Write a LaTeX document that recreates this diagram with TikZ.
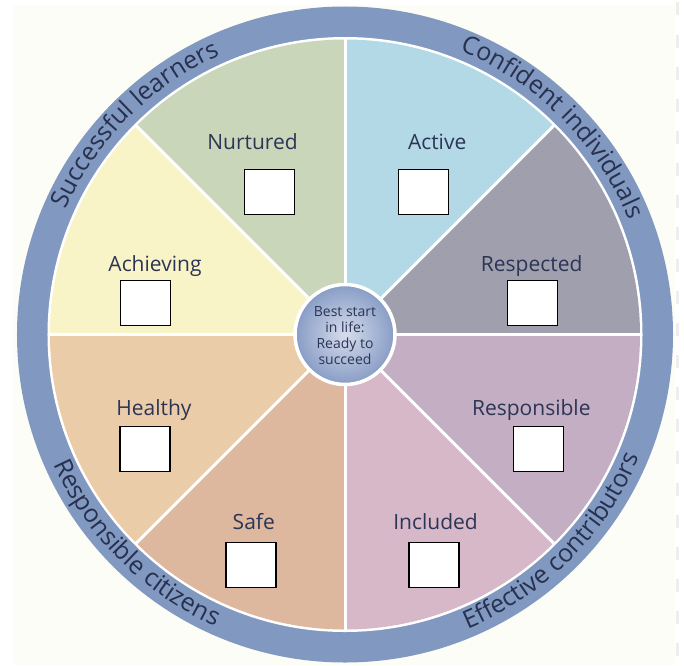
\documentclass[tikz,border=0pt]{standalone}
\usepackage{fontspec}
\setmainfont{Open Sans}
\usetikzlibrary{decorations.text}
\definecolor{bgcream}{HTML}{FDFDF7}
\definecolor{dashgray}{HTML}{EEEEEE}
\definecolor{ringblue}{HTML}{8199C0}
\definecolor{ringtext}{HTML}{27304F}
\definecolor{labeltext}{HTML}{2C3555}
\definecolor{cnurtured}{HTML}{C9D6BA}
\definecolor{cactive}{HTML}{B3D8E6}
\definecolor{crespected}{HTML}{A09FAD}
\definecolor{cresponsible}{HTML}{C3AEC4}
\definecolor{cincluded}{HTML}{D7B8C8}
\definecolor{csafe}{HTML}{DDB89F}
\definecolor{chealthy}{HTML}{EBCCA8}
\definecolor{cachieving}{HTML}{F9F4C7}
\definecolor{hubin}{HTML}{D6DDEC}
\definecolor{hubout}{HTML}{8A9EC6}
\newcommand\ringfont{\fontsize{25}{25}\selectfont}
\tikzset{
  lbl/.style={text=labeltext, font=\fontsize{21}{21}\selectfont, anchor=base, inner sep=0pt},
  tickbox/.style={draw=black, fill=white, line width=1.4pt, minimum width=50pt, minimum height=45pt, inner sep=0pt},
  ringlabel/.style={decorate, decoration={text along path, text={|\ringfont|#1}, text align=center, text color=ringtext}}
}
\begin{document}
\begin{tikzpicture}[x=1pt,y=1pt]
\useasboundingbox (-345,-330.5) rectangle (339,334.5);
\fill[white] (-345,-330.5) rectangle (339,334.5);
\fill[bgcream] (-332,-330.5) rectangle (330,329.5);
\draw[dashgray, line width=3.5pt, dash pattern=on 13pt off 19pt] (332.5,332) -- (332.5,-330.5);
% ring
\fill[ringblue] (0,0) circle[radius=328];
\fill[white] (0,0) circle[radius=297.5];
% wedges
\fill[crespected]   (0,0) -- (0:295)   arc[start angle=0,   end angle=45,  radius=295] -- cycle;
\fill[cactive]      (0,0) -- (45:295)  arc[start angle=45,  end angle=90,  radius=295] -- cycle;
\fill[cnurtured]    (0,0) -- (90:295)  arc[start angle=90,  end angle=135, radius=295] -- cycle;
\fill[cachieving]   (0,0) -- (135:295) arc[start angle=135, end angle=180, radius=295] -- cycle;
\fill[chealthy]     (0,0) -- (180:295) arc[start angle=180, end angle=225, radius=295] -- cycle;
\fill[csafe]        (0,0) -- (225:295) arc[start angle=225, end angle=270, radius=295] -- cycle;
\fill[cincluded]    (0,0) -- (270:295) arc[start angle=270, end angle=315, radius=295] -- cycle;
\fill[cresponsible] (0,0) -- (315:295) arc[start angle=315, end angle=360, radius=295] -- cycle;
\foreach \a in {0,45,...,315} \draw[white, line width=3pt] (0,0) -- (\a:296);
% hub
\shade[inner color=hubin, outer color=hubout] (0,0) circle[radius=48.5];
\draw[white, line width=3.5pt] (0,0) circle[radius=50];
\node[align=center, text=labeltext, font=\fontsize{14}{16}\selectfont, inner sep=0pt] (hub) at (0,-1) {Best start\\in life:\\Ready to\\succeed};
% ring texts
\path[ringlabel={Successful learners}] (180:306) arc[start angle=180, end angle=90, radius=306];
\path[ringlabel={Confident individuals}] (90:306) arc[start angle=90, end angle=0, radius=306];
\path[ringlabel={Effective contributors}] (270:319) arc[start angle=270, end angle=360, radius=319];
\path[ringlabel={Responsible citizens}] (180:319) arc[start angle=180, end angle=270, radius=319];
% labels and boxes
\node[lbl] (nurtured) at (-92.5,185.2) {Nurtured};
\node[tickbox] (nurturedbox) at (-75.3,142.6) {};
\node[lbl] (active) at (92.2,185.5) {Active};
\node[tickbox] (activebox) at (78.2,142.4) {};
\node[lbl] (achieving) at (-190,62.8) {Achieving};
\node[tickbox] (achievingbox) at (-199.6,31.6) {};
\node[lbl] (respected) at (186.7,62.8) {Respected};
\node[tickbox] (respectedbox) at (187.5,31.5) {};
\node[lbl] (healthy) at (-191.1,-80.5) {Healthy};
\node[tickbox] (healthybox) at (-199.8,-114.2) {};
\node[lbl] (responsible) at (186.3,-80.5) {Responsible};
\node[tickbox] (responsiblebox) at (193.5,-114.2) {};
\node[lbl] (safe) at (-91.2,-195.3) {Safe};
\node[tickbox] (safebox) at (-94,-230.5) {};
\node[lbl] (included) at (90.6,-195.3) {Included};
\node[tickbox] (includedbox) at (89,-230.5) {};
\end{tikzpicture}
\end{document}
